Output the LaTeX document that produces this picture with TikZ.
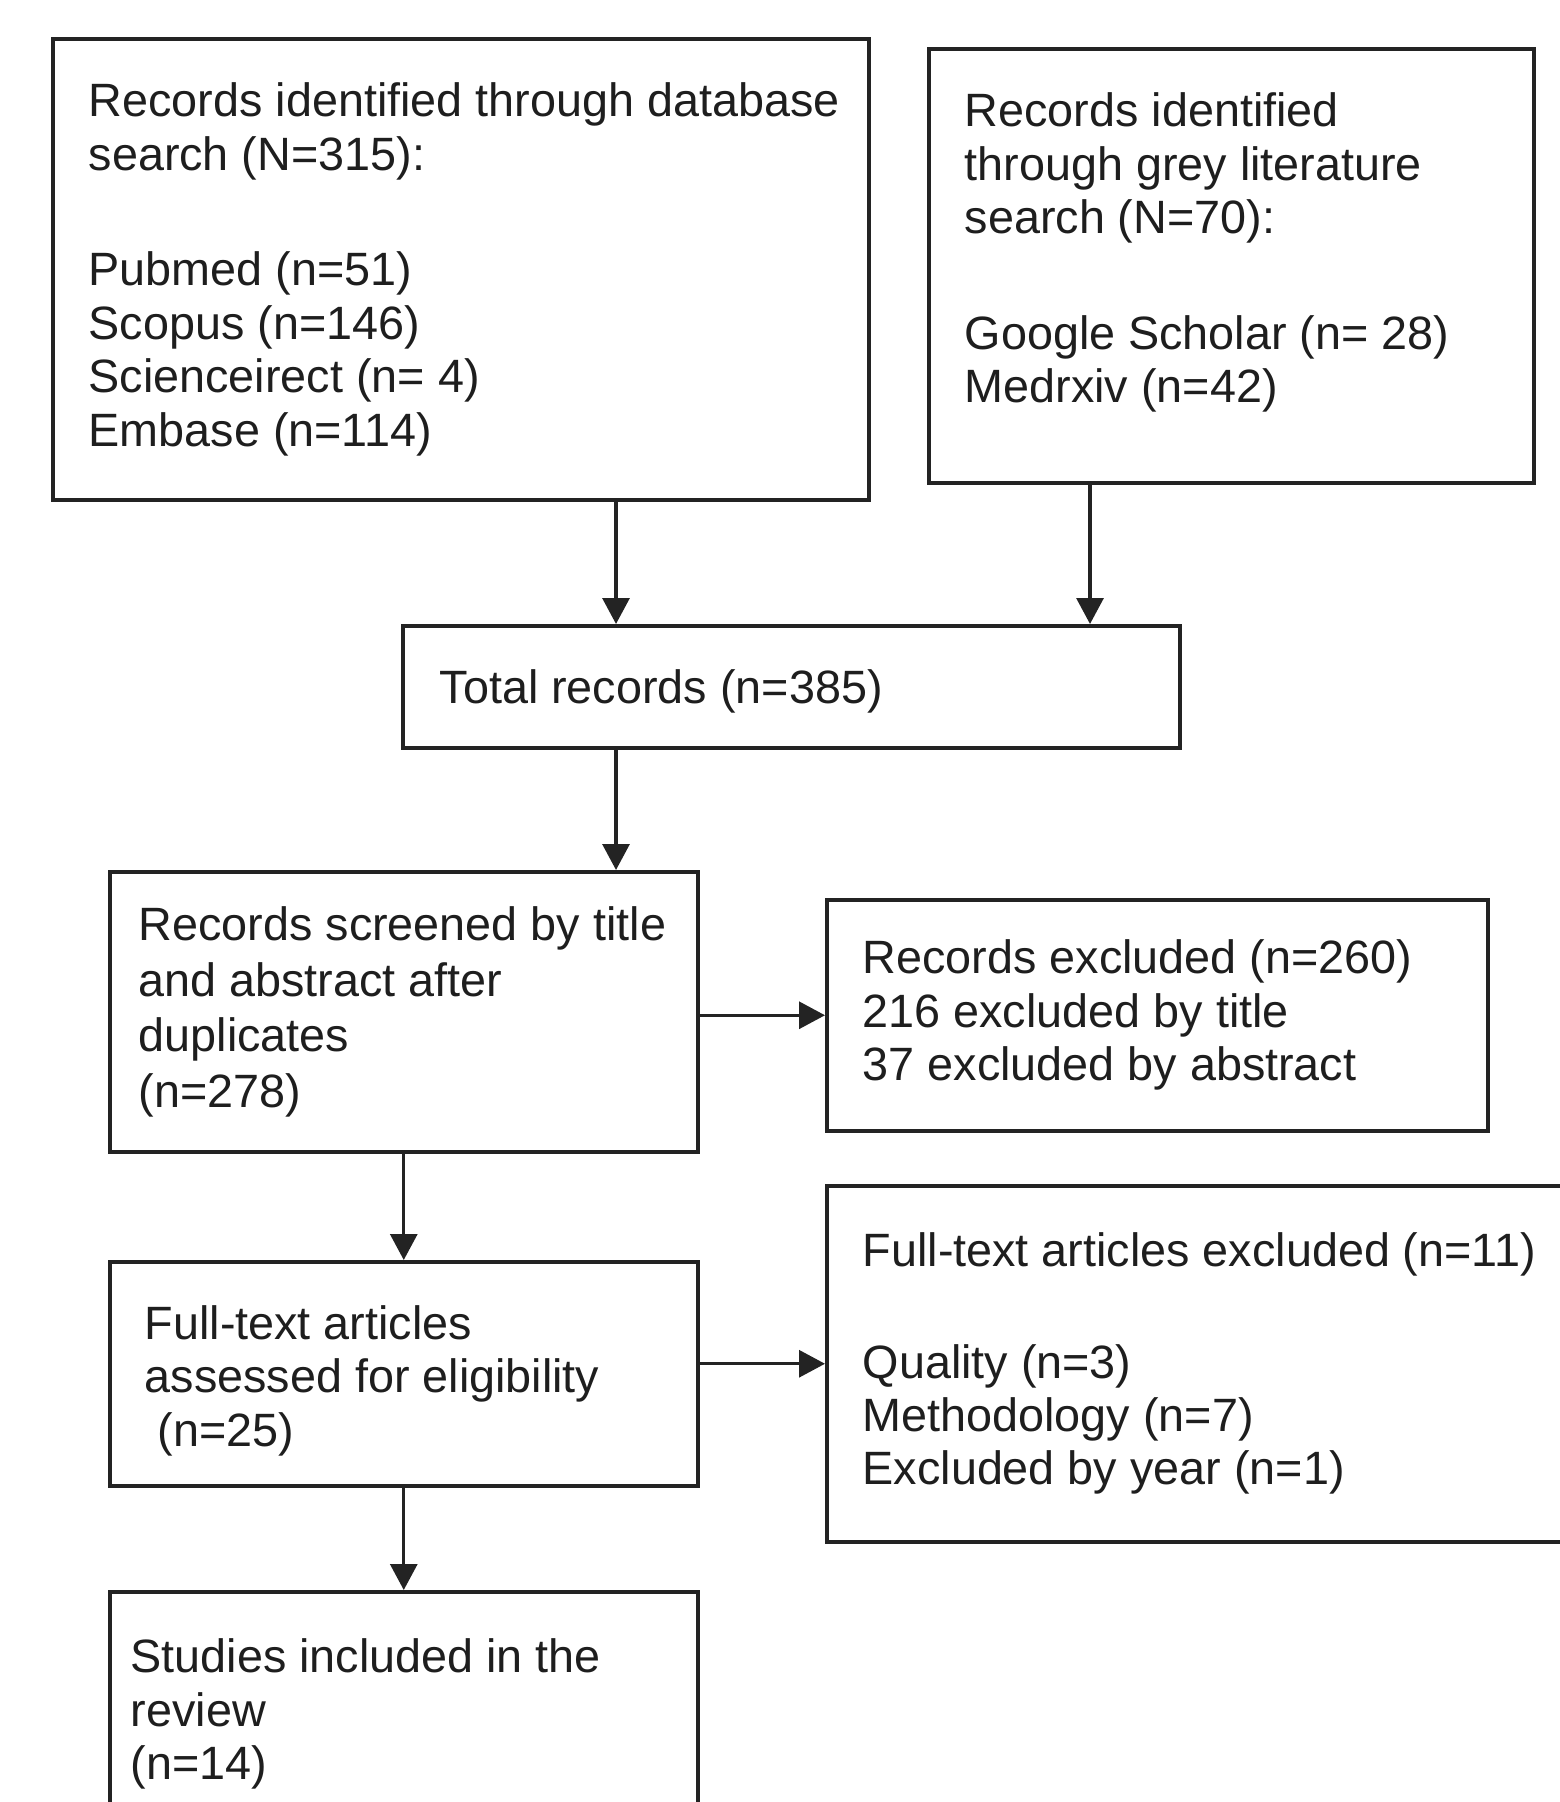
\documentclass[tikz,border=0pt]{standalone}
\usepackage{fontspec}
\setmainfont{Liberation Sans}
\usetikzlibrary{positioning,arrows.meta}
\definecolor{lineblack}{RGB}{35,35,35}
\definecolor{textblack}{RGB}{30,30,30}

\begin{document}
\begin{tikzpicture}[
    box/.style={draw=lineblack, line width=1pt, fill=white, anchor=north west, inner sep=0pt},
    txt/.style={align=left, inner sep=0pt, text=textblack, font=\fontsize{13.3}{15.2}\selectfont},
    arr/.style={draw=lineblack, line width=0.9pt, -{Triangle[length=0.26cm,width=0.27cm]}}]
    \useasboundingbox (0,0) rectangle (15.6,-18.02);

    % Boxes
    \node[box, minimum width=8.16cm, minimum height=4.61cm] (db) at (0.51,-0.37) {};
    \node[box, minimum width=6.05cm, minimum height=4.34cm] (grey) at (9.27,-0.47) {};
    \node[box, minimum width=7.77cm, minimum height=1.22cm] (total) at (4.01,-6.24) {};
    \node[box, minimum width=5.88cm, minimum height=2.80cm] (screened) at (1.08,-8.70) {};
    \node[box, minimum width=6.61cm, minimum height=2.31cm] (excl) at (8.25,-8.98) {};
    \node[box, minimum width=5.88cm, minimum height=2.24cm] (fulltext) at (1.08,-12.60) {};
    \node[box, minimum width=7.50cm, minimum height=3.56cm] (exclft) at (8.25,-11.84) {};
    \node[box, minimum width=5.88cm, minimum height=2.60cm] (studies) at (1.08,-15.90) {};

    % Labels
    \node[txt, right=0.37cm of db.west] (dbtext) {Records identified through database\\search (N=315):\\[17.7pt]
        Pubmed (n=51)\\Scopus (n=146)\\Scienceirect (n= 4)\\Embase (n=114)};
    \node[txt, right=0.37cm of grey.west, yshift=0.13cm] (greytext) {Records identified\\through grey literature\\search (N=70):\\[17.7pt]
        Google Scholar (n= 28)\\Medrxiv (n=42)};
    \node[txt, right=0.38cm of total.west, yshift=-0.05cm] (totaltext) {Total records (n=385)};
    \node[txt, right=0.30cm of screened.west] (screenedtext) {Records screened by title\\[0.6pt]and abstract after\\[0.6pt]duplicates\\[0.6pt](n=278)};
    \node[txt, right=0.37cm of excl.west] (excltext) {Records excluded (n=260)\\216 excluded by title\\37 excluded by abstract};
    \node[txt, right=0.36cm of fulltext.west, yshift=-0.07cm] (fulltexttext) {Full-text articles\\assessed for eligibility\\\hspace*{0.28em}(n=25)};
    \node[txt, right=0.37cm of exclft.west] (exclfttext) {Full-text articles excluded (n=11)\\[16.5pt]
        Quality (n=3)\\Methodology (n=7)\\Excluded by year (n=1)};
    \node[txt, below right=0.48cm and 0.22cm of studies.north west] (studiestext) {Studies included in the\\review\\(n=14)};

    % Connectors
    \coordinate (colL) at (6.16,0);
    \coordinate (colR) at (10.90,0);
    \draw[arr] (db.south -| colL) -- (total.north -| colL);
    \draw[arr] (grey.south -| colR) -- (total.north -| colR);
    \draw[arr] (total.south -| colL) -- (screened.north -| colL);
    \draw[arr] (screened.east |- excl.west) -- (excl.west);
    \draw[arr] (screened.south) -- (fulltext.north);
    \draw[arr] (fulltext.east |- exclft.west) -- (exclft.west);
    \draw[arr] (fulltext.south) -- (studies.north);
\end{tikzpicture}
\end{document}
